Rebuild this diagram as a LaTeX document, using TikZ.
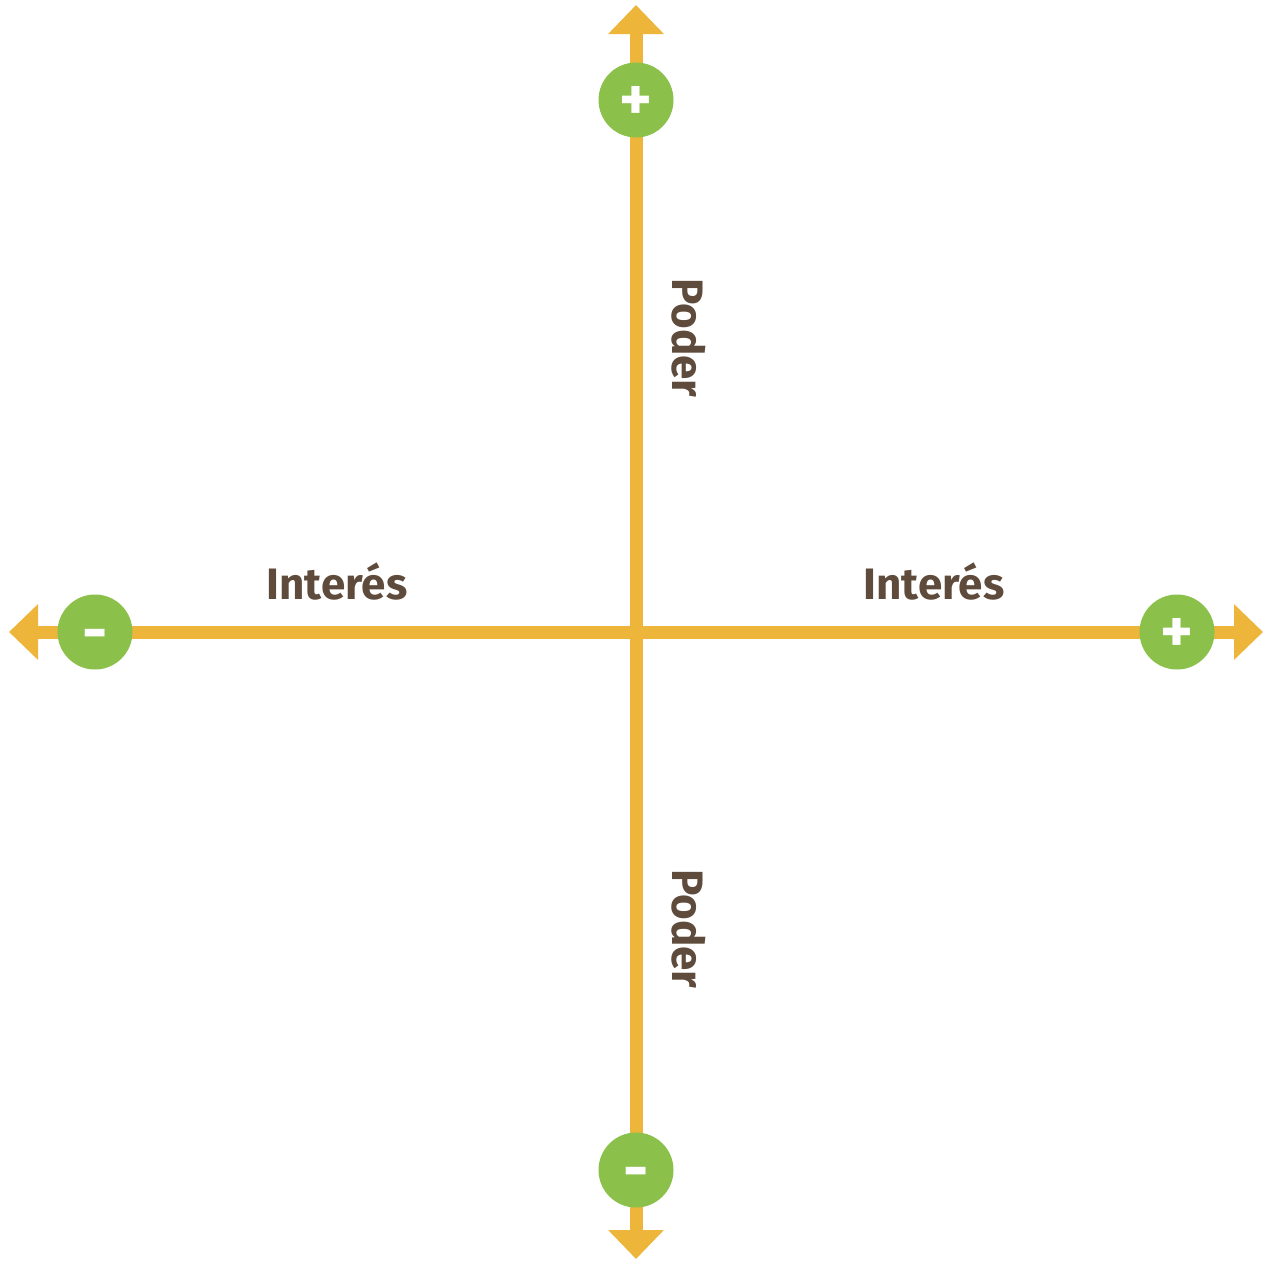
\documentclass[tikz,border=0pt]{standalone}
\usepackage{fontspec}
\setmainfont{Fira Sans}
\usetikzlibrary{arrows.meta}
\definecolor{amarilloEje}{HTML}{EDB53A}
\definecolor{verdePolo}{HTML}{8BC04B}
\definecolor{cafeRotulo}{HTML}{5E4B3C}
\tikzset{
  eje/.style={amarilloEje,line width=13pt,
    {Triangle[length=29pt,width=54pt]}-{Triangle[length=29pt,width=54pt]}},
  polo/.style={circle,fill=verdePolo,minimum size=75pt,inner sep=0pt,
    text=white,font=\fontsize{62}{62}\selectfont\bfseries},
  rotulo/.style={text=cafeRotulo,inner sep=0pt,
    font=\fontsize{44}{50}\selectfont\bfseries},
}
\begin{document}
\begin{tikzpicture}[x=1pt,y=-1pt]
  \useasboundingbox (0,0) rectangle (1265,1261);
  % ejes
  \coordinate (arriba) at (636,5);
  \coordinate (abajo) at (636,1259);
  \coordinate (izq) at (9,632);
  \coordinate (der) at (1263,632);
  \draw[eje] (izq) -- (der);
  \draw[eje] (abajo) -- (arriba);
  % polos
  \node[polo] (poderMas) at (636,100) {\raisebox{-3pt}[\height][\depth]{+}};
  \node[polo] (poderMenos) at (636,1170) {\raisebox{-9pt}[\height][\depth]{-}};
  \node[polo] (interesMenos) at (95,632) {\raisebox{-9pt}[\height][\depth]{-}};
  \node[polo] (interesMas) at (1177,632) {\raisebox{-3pt}[\height][\depth]{+}};
  % rotulos
  \node[rotulo,anchor=base] (interesIzq) at (337,599) {Interés};
  \node[rotulo,anchor=base] (interesDer) at (934,599) {Interés};
  \node[rotulo,anchor=base,rotate=-90] (poderSup) at (672,338) {Poder};
  \node[rotulo,anchor=base,rotate=-90] (poderInf) at (672,929) {Poder};
\end{tikzpicture}
\end{document}
